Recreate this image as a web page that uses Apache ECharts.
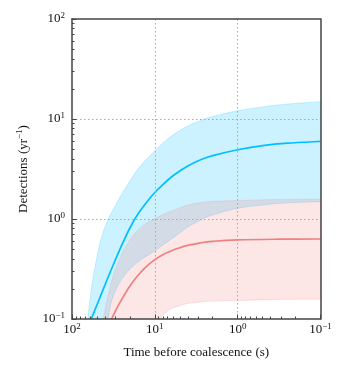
<!DOCTYPE html>
<html><head><meta charset="utf-8">
<script src="https://cdn.jsdelivr.net/npm/echarts@6/dist/echarts.min.js"></script>
<style>html,body{margin:0;padding:0;background:#fff}#c{width:350px;height:375px}</style>
</head><body><div id="c"></div>
<script>
// ---- data (time before coalescence in s, detections per yr) ----
const blueLineT = [58.6, 50, 40, 32, 25, 20, 16, 12.5, 10, 8, 6.3, 5, 4, 2.8, 2, 1, 0.5, 0.25, 0.1];
const blueLineV = [0.1, 0.138, 0.219, 0.343, 0.55, 0.813, 1.12, 1.48, 1.84, 2.21, 2.63, 3.02, 3.39, 3.91, 4.30, 4.93, 5.41, 5.73, 5.97];
const blueHighT = [64.6, 60, 56, 50, 45, 40, 35.5, 31.6, 25, 20, 16, 12.5, 10, 8, 6.3, 5, 4, 2.8, 2, 1, 0.5, 0.25, 0.1];
const blueHighV = [0.1, 0.166, 0.251, 0.417, 0.617, 0.832, 1.05, 1.26, 1.78, 2.4, 3.16, 3.98, 4.79, 5.75, 6.76, 7.67, 8.51, 9.66, 10.6, 12.1, 13.2, 14.1, 14.9];
const blueLowT = [36.6, 34, 30, 25, 20, 16, 12.5, 10, 8, 6.3, 5, 4, 2.8, 2, 1, 0.5, 0.25, 0.1];
const blueLowV = [0.1, 0.141, 0.191, 0.251, 0.316, 0.372, 0.427, 0.479, 0.55, 0.631, 0.724, 0.832, 0.977, 1.10, 1.28, 1.38, 1.45, 1.49];
const redLineT = [33.2, 30, 25, 20, 16, 12.5, 10, 8, 6.3, 5, 4, 2.8, 2, 1, 0.32, 0.1];
const redLineV = [0.1, 0.12, 0.158, 0.214, 0.272, 0.337, 0.392, 0.44, 0.482, 0.516, 0.545, 0.578, 0.598, 0.619, 0.628, 0.631];
const redHighT = [41.9, 38, 31.6, 25, 20, 16, 12.5, 10, 8, 6.3, 5, 4, 2.8, 2, 1, 0.32, 0.1];
const redHighV = [0.1, 0.151, 0.275, 0.447, 0.617, 0.776, 0.912, 1.01, 1.11, 1.20, 1.29, 1.38, 1.46, 1.50, 1.53, 1.57, 1.58];
const redLowT = [8.7, 8, 7.1, 6.3, 5, 4, 2.8, 2, 1, 0.32, 0.1];
const redLowV = [0.1, 0.11, 0.119, 0.127, 0.136, 0.143, 0.148, 0.151, 0.153, 0.157, 0.158];

const xMinorTicks = [90, 80, 70, 60, 50, 40, 30, 20, 9, 8, 7, 6, 5, 4, 3, 2, 0.9, 0.8, 0.7, 0.6, 0.5, 0.4, 0.3, 0.2];
const yMinorTicks = [0.2, 0.3, 0.4, 0.5, 0.6, 0.7, 0.8, 0.9, 2, 3, 4, 5, 6, 7, 8, 9, 20, 30, 40, 50, 60, 70, 80, 90];
const xTitle = 'Time before coalescence (s)';
const yTitle = 'Detections (yr{s|\u22121})';

const FONT = 'Liberation Serif';
const FRAME = '#444';

function expLabel(v) {
  const e = Math.round(Math.log10(v));
  return '{b|10}{s|' + (e < 0 ? '\u2212' + (-e) : e) + '}';
}
const labelRich = {
  b: { fontFamily: FONT, fontSize: 13, color: '#111', lineHeight: 16 },
  s: { fontFamily: FONT, fontSize: 9, color: '#111', lineHeight: 10, verticalAlign: 'top' }
};

function crPath(p, start) {
  let d = (start ? 'M' : 'L') + p[0][0] + ' ' + p[0][1];
  for (let i = 0; i < p.length - 1; i++) {
    const p0 = p[i - 1] || p[i], p1 = p[i], p2 = p[i + 1], p3 = p[i + 2] || p[i + 1];
    const c1x = p1[0] + (p2[0] - p0[0]) / 6, c1y = p1[1] + (p2[1] - p0[1]) / 6;
    const c2x = p2[0] - (p3[0] - p1[0]) / 6, c2y = p2[1] - (p3[1] - p1[1]) / 6;
    d += 'C' + c1x + ' ' + c1y + ' ' + c2x + ' ' + c2y + ' ' + p2[0] + ' ' + p2[1];
  }
  return d;
}

function band(hiT, hiV, loT, loV, color, z) {
  return {
    type: 'custom', coordinateSystem: 'cartesian2d', silent: true, clip: true, z: z,
    data: [[hiT[0], hiV[0]]],
    renderItem: function (params, api) {
      const up = hiT.map((t, i) => api.coord([t, hiV[i]]));
      const lo = loT.map((t, i) => api.coord([t, loV[i]])).reverse();
      const d = crPath(up, true) + crPath(lo, false) + 'Z';
      return { type: 'path', shape: { pathData: d }, style: { fill: color, stroke: color, lineWidth: 1 } };
    }
  };
}

function curve(T, V, color, z) {
  return {
    type: 'custom', coordinateSystem: 'cartesian2d', silent: true, clip: true, z: z,
    data: [[T[0], V[0]]],
    renderItem: function (params, api) {
      const p = T.map((t, i) => api.coord([t, V[i]]));
      return { type: 'path', shape: { pathData: crPath(p, true) }, style: { fill: null, stroke: color, lineWidth: 1.7, lineJoin: 'round' } };
    }
  };
}

const chart = echarts.init(document.getElementById('c'), null, { renderer: 'canvas' });
const baseX = { type: 'log', logBase: 10, min: 0.1, max: 100, inverse: true, gridIndex: 0, z: 10 };
const baseY = { type: 'log', logBase: 10, min: 0.1, max: 100, gridIndex: 0, z: 10 };
chart.setOption({
  animation: false,
  backgroundColor: '#fff',
  grid: { left: 72, right: 29.5, top: 19, bottom: 56, containLabel: false },
  xAxis: [
    Object.assign({}, baseX, {
      position: 'bottom', splitNumber: 3,
      axisLine: { show: true, onZero: false, lineStyle: { color: FRAME, width: 1.5 } },
      axisTick: { show: true, inside: true, length: 4.5, lineStyle: { color: FRAME, width: 1 } },
      axisLabel: { show: true, margin: 3, formatter: expLabel, rich: labelRich, showMinLabel: true, showMaxLabel: true },
      splitLine: { show: true, showMinLine: false, showMaxLine: false, lineStyle: { type: [1.5, 2.5], color: '#a8a8a8', width: 1 } },
      name: xTitle, nameLocation: 'middle', nameGap: 27,
      nameTextStyle: { fontFamily: FONT, fontSize: 13, color: '#111' }
    }),
    Object.assign({}, baseX, {
      position: 'bottom',
      axisLine: { show: false, onZero: false },
      axisTick: { show: true, inside: true, length: 2.5, customValues: xMinorTicks, lineStyle: { color: FRAME, width: 1 } },
      axisLabel: { show: false }, splitLine: { show: false }
    }),
    Object.assign({}, baseX, {
      position: 'top',
      axisLine: { show: true, onZero: false, lineStyle: { color: FRAME, width: 1.5 } },
      axisTick: { show: false }, axisLabel: { show: false }, splitLine: { show: false }
    })
  ],
  yAxis: [
    Object.assign({}, baseY, {
      position: 'left', splitNumber: 3,
      axisLine: { show: true, onZero: false, lineStyle: { color: FRAME, width: 1.5 } },
      axisTick: { show: true, inside: true, length: 4.5, lineStyle: { color: FRAME, width: 1 } },
      axisLabel: { show: true, margin: 7, formatter: expLabel, rich: labelRich, showMinLabel: true, showMaxLabel: true },
      splitLine: { show: true, showMinLine: false, showMaxLine: false, lineStyle: { type: [1.5, 2.5], color: '#a8a8a8', width: 1 } },
      name: yTitle, nameLocation: 'middle', nameGap: 38, nameRotate: 90,
      nameTextStyle: {
        fontFamily: FONT, fontSize: 13, color: '#111', lineHeight: 16,
        rich: { s: { fontFamily: FONT, fontSize: 9, color: '#111', lineHeight: 10, verticalAlign: 'top' } }
      }
    }),
    Object.assign({}, baseY, {
      position: 'left',
      axisLine: { show: false, onZero: false },
      axisTick: { show: true, inside: true, length: 2.5, customValues: yMinorTicks, lineStyle: { color: FRAME, width: 1 } },
      axisLabel: { show: false }, splitLine: { show: false }
    }),
    Object.assign({}, baseY, {
      position: 'right',
      axisLine: { show: true, onZero: false, lineStyle: { color: FRAME, width: 1.5 } },
      axisTick: { show: false }, axisLabel: { show: false }, splitLine: { show: false }
    })
  ],
  series: [
    band(blueHighT, blueHighV, blueLowT, blueLowV, 'rgba(0,191,255,0.2)', 1),
    band(redHighT, redHighV, redLowT, redLowV, 'rgba(240,128,128,0.2)', 2),
    curve(blueLineT, blueLineV, '#00bfff', 5),
    curve(redLineT, redLineV, '#f08080', 5)
  ]
});
</script>
</body></html>
